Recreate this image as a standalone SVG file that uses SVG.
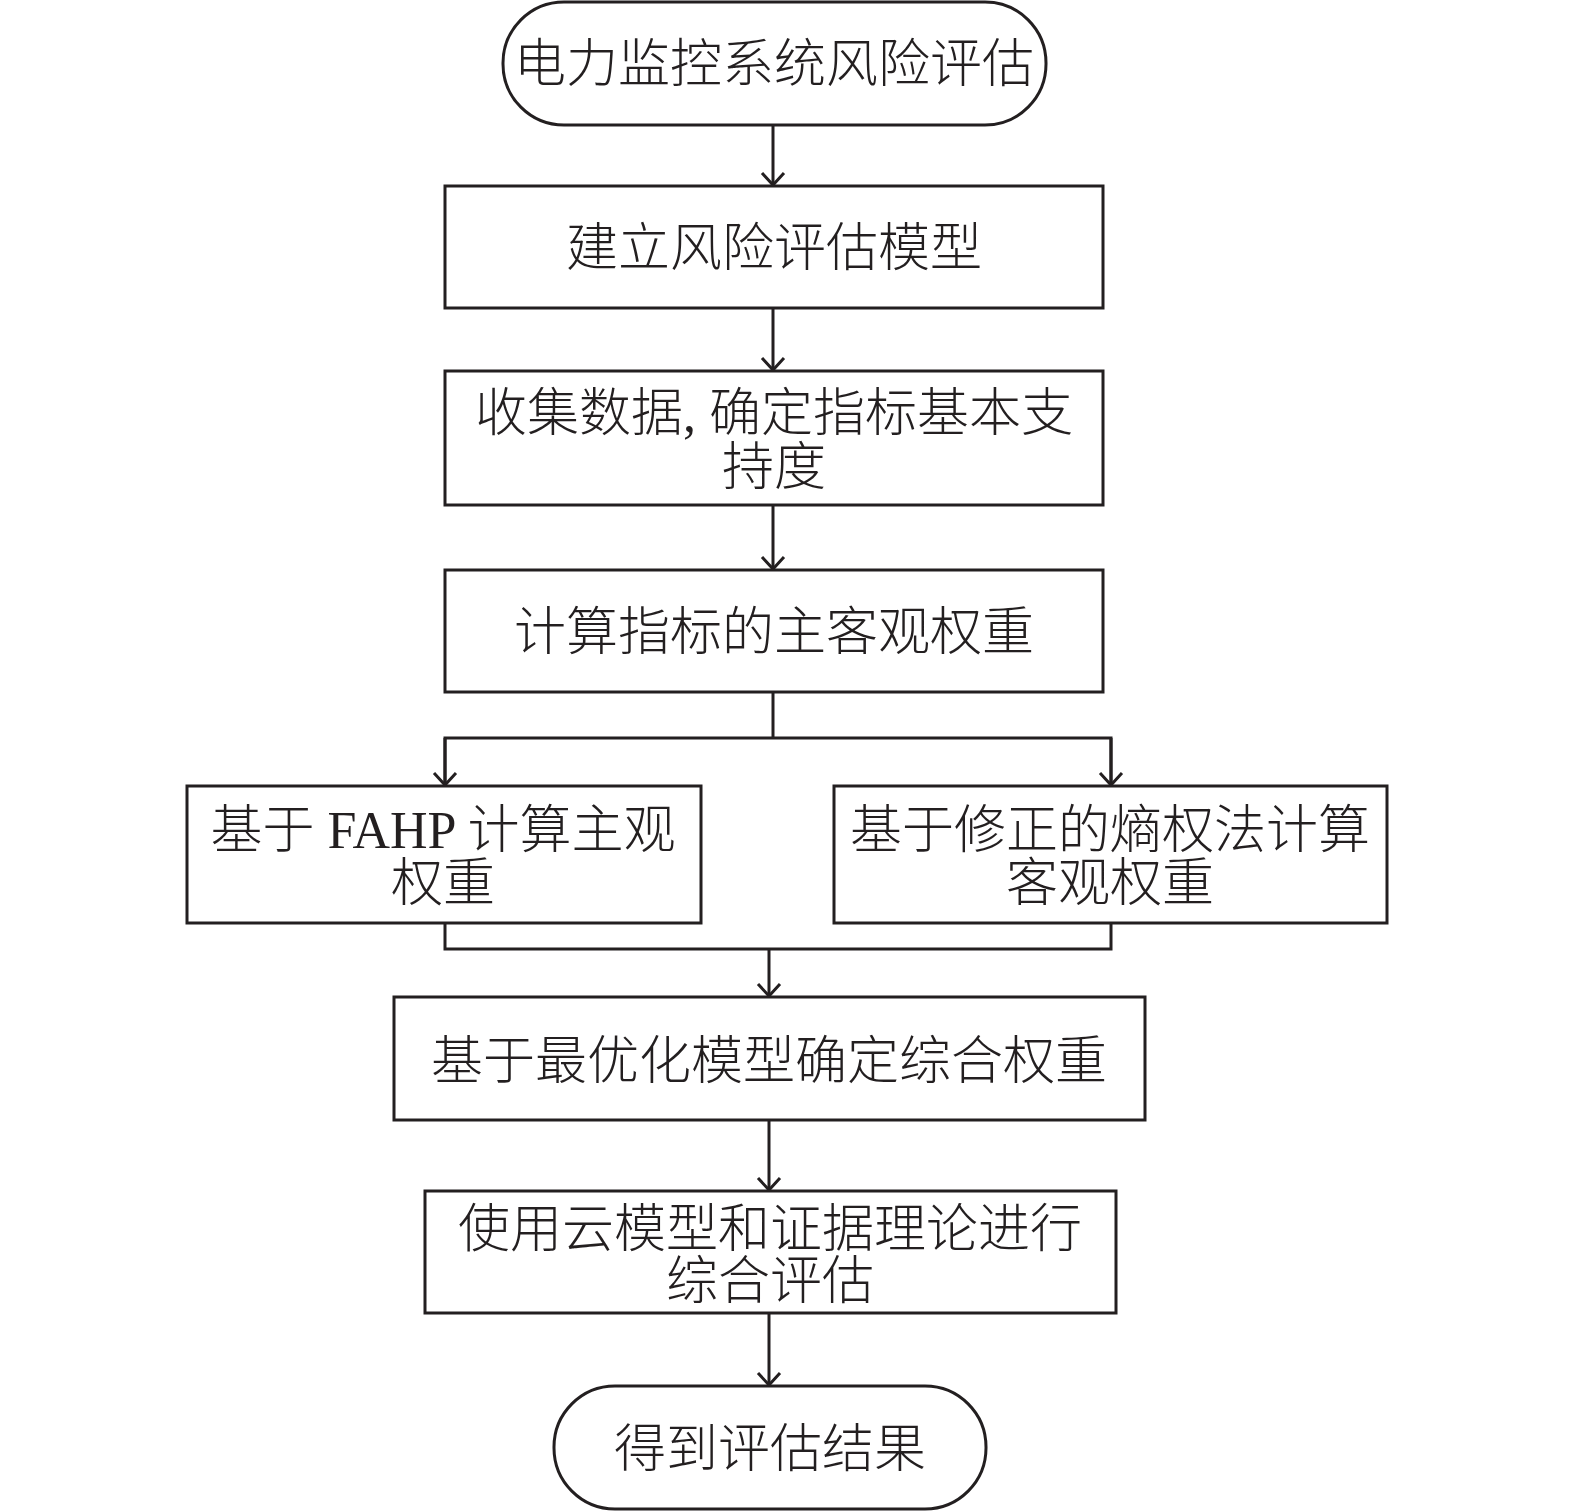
<svg xmlns="http://www.w3.org/2000/svg" width="1575" height="1511" viewBox="0 0 1575 1511">
<style>
.n{fill:#fff;stroke:#231f20;stroke-width:3}
.t{font-family:"Liberation Serif","Noto Sans CJK SC",serif;font-size:52px;font-weight:300;fill:#231f20;text-anchor:middle}
.c{fill:none;stroke:#231f20;stroke-width:3}
</style>
<defs>
<marker id="a" markerUnits="userSpaceOnUse" markerWidth="30" markerHeight="30" refX="15" refY="15" orient="auto" viewBox="0 0 30 30">
<path d="M3,4 L15,15 L3,26" fill="none" stroke="#231f20" stroke-width="3"/>
</marker>
</defs>
<g id="connectors">
<line class="c" x1="773" y1="125" x2="773" y2="185" marker-end="url(#a)"/>
<line class="c" x1="773" y1="308" x2="773" y2="370" marker-end="url(#a)"/>
<line class="c" x1="773" y1="505" x2="773" y2="569" marker-end="url(#a)"/>
<polyline class="c" points="773,692 773,738"/>
<polyline class="c" points="445,785 445,738 1111,738 1111,785"/>
<line class="c" x1="445" y1="738" x2="445" y2="785" marker-end="url(#a)"/>
<line class="c" x1="1111" y1="738" x2="1111" y2="785" marker-end="url(#a)"/>
<polyline class="c" points="445,923 445,949 1111,949 1111,923"/>
<line class="c" x1="769" y1="949" x2="769" y2="996" marker-end="url(#a)"/>
<line class="c" x1="769" y1="1120" x2="769" y2="1190" marker-end="url(#a)"/>
<line class="c" x1="769" y1="1313" x2="769" y2="1385" marker-end="url(#a)"/>
</g>
<g id="start">
<rect class="n" x="503" y="2" width="543" height="123" rx="61"/>
<text class="t" x="774" y="82">电力监控系统风险评估</text>
</g>
<g id="model">
<rect class="n" x="445" y="186" width="658" height="122"/>
<text class="t" x="774" y="266">建立风险评估模型</text>
</g>
<g id="collect">
<rect class="n" x="445" y="371" width="658" height="134"/>
<text class="t" x="774" y="431">收集数据, 确定指标基本支</text>
<text class="t" x="774" y="485">持度</text>
</g>
<g id="weights">
<rect class="n" x="445" y="570" width="658" height="122"/>
<text class="t" x="774" y="650">计算指标的主客观权重</text>
</g>
<g id="fahp">
<rect class="n" x="187" y="786" width="514" height="137"/>
<text class="t" x="443" y="848">基于 FAHP 计算主观</text>
<text class="t" x="443" y="901">权重</text>
</g>
<g id="entropy">
<rect class="n" x="834" y="786" width="553" height="137"/>
<text class="t" x="1110" y="848">基于修正的熵权法计算</text>
<text class="t" x="1110" y="901">客观权重</text>
</g>
<g id="optimal">
<rect class="n" x="394" y="997" width="751" height="123"/>
<text class="t" x="769" y="1079">基于最优化模型确定综合权重</text>
</g>
<g id="cloud">
<rect class="n" x="425" y="1191" width="691" height="122"/>
<text class="t" x="770" y="1247">使用云模型和证据理论进行</text>
<text class="t" x="770" y="1299">综合评估</text>
</g>
<g id="end">
<rect class="n" x="554" y="1386" width="432" height="123" rx="61"/>
<text class="t" x="770" y="1467">得到评估结果</text>
</g>
</svg>
